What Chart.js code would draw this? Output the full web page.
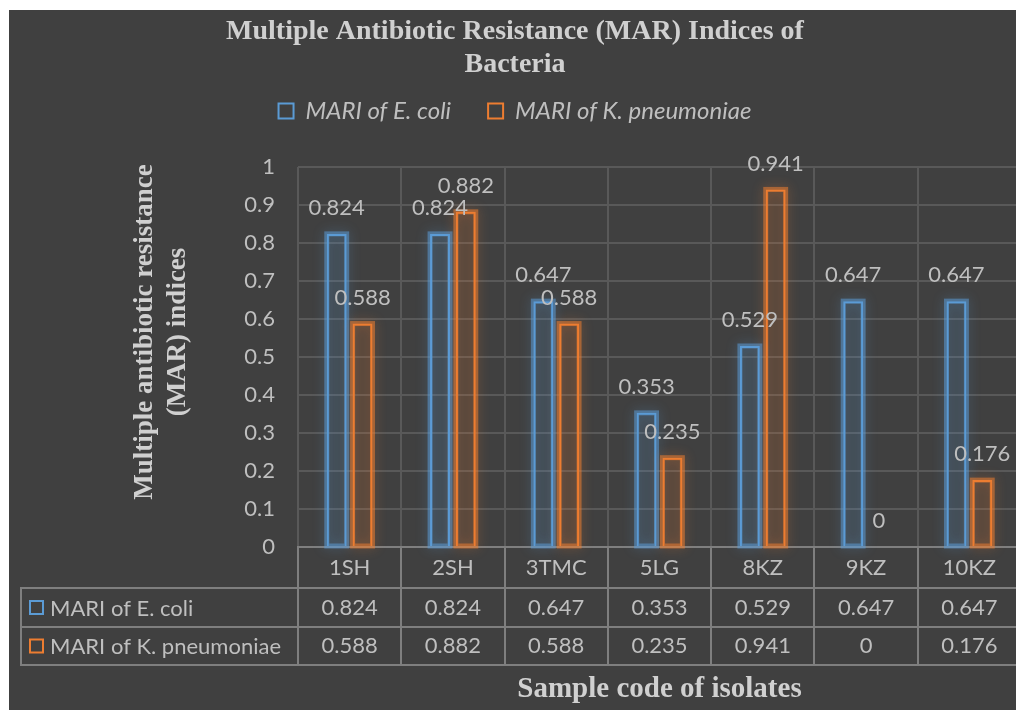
<!DOCTYPE html>
<html>
<head>
<meta charset="utf-8">
<script src="https://cdn.jsdelivr.net/npm/chart.js@4.4.1/dist/chart.umd.min.js"></script>
<style>
html, body { margin: 0; padding: 0; background: #fff; overflow: hidden; width: 1016px; height: 710px; }
#wrap { position: absolute; left: 9px; top: 10px; width: 1030px; height: 700px; background: #404040; }
</style>
</head>
<body>
<div id="wrap"><canvas id="myChart"></canvas></div>
<script>
// chart data
var categories = ['1SH', '2SH', '3TMC', '5LG', '8KZ', '9KZ', '10KZ'];
var mariEcoli = [0.824, 0.824, 0.647, 0.353, 0.529, 0.647, 0.647];
var mariKpneu = [0.588, 0.882, 0.588, 0.235, 0.941, 0, 0.176];
var seriesNames = ['MARI of E. coli', 'MARI of K. pneumoniae'];
var yMin = 0, yMax = 1, yStep = 0.1;

var chartTitle = ['Multiple Antibiotic Resistance (MAR) Indices of', 'Bacteria'];
var yTitle = ['Multiple antibiotic resistance', '(MAR) indices'];
var xTitle = 'Sample code of isolates';

var blue = '#5b9bd5';
var orange = '#ed7d31';
var textGray = '#bfbfbf';
var titleGray = '#d0d0d0';
var gridGray = '#595959';
var tableGray = '#7f7f7f';
var bg = '#404040';

// soft glow round each bar, like the excel effect
var glowPlugin = {
    id: 'glow',
    beforeDatasetsDraw: function (chart) {
        var ctx = chart.ctx
        chart.data.datasets.forEach(function (ds, i) {
            var meta = chart.getDatasetMeta(i)
            meta.data.forEach(function (bar) {
                var h = bar.base - bar.y
                if (h <= 0) return
                ctx.save()
                ctx.shadowColor = ds.glowColor
                ctx.shadowBlur = 12
                ctx.strokeStyle = ds.glowColor
                ctx.lineWidth = 5
                ctx.strokeRect(bar.x - bar.width / 2, bar.y, bar.width, h)
                ctx.restore()
            })
        })
    }
}

// value labels above the bars
var labelPlugin = {
    id: 'valueLabels',
    afterDatasetsDraw: function (chart) {
        var ctx = chart.ctx
        ctx.save()
        ctx.font = '22px Lato'
        ctx.fillStyle = textGray
        ctx.textAlign = 'center'
        ctx.textBaseline = 'middle'
        chart.data.datasets.forEach(function (ds, i) {
            chart.getDatasetMeta(i).data.forEach(function (bar, j) {
                ctx.fillText(String(ds.data[j]), bar.x, bar.y - 26)
            })
        })
        ctx.restore()
    }
}

// data table under the plot + y axis title
var tablePlugin = {
    id: 'dataTable',
    afterDraw: function (chart) {
        var ctx = chart.ctx
        var area = chart.chartArea
        var xs = chart.scales.x
        var top = area.bottom
        var r1 = top + 41, r2 = top + 80, bot = top + 118
        var left = 12

        ctx.save()
        ctx.strokeStyle = tableGray
        ctx.lineWidth = 2
        ctx.beginPath()
        ctx.moveTo(left, r1); ctx.lineTo(area.right, r1)
        ctx.moveTo(left, r2); ctx.lineTo(area.right, r2)
        ctx.moveTo(left, bot); ctx.lineTo(area.right, bot)
        ctx.moveTo(left, r1 - 1); ctx.lineTo(left, bot + 1)
        ctx.stroke()

        ctx.font = '22px Lato'
        ctx.fillStyle = textGray
        ctx.textAlign = 'center'
        ctx.textBaseline = 'middle'
        var rowsY = [(r1 + r2) / 2, (r2 + bot) / 2]
        chart.data.labels.forEach(function (lab, j) {
            var cx = xs.getPixelForValue(j)
            ctx.fillText(lab, cx, (top + r1) / 2)
            chart.data.datasets.forEach(function (ds, i) {
                ctx.fillText(String(ds.data[j]), cx, rowsY[i])
            })
        })

        // row headers
        ctx.textAlign = 'left'
        chart.data.datasets.forEach(function (ds, i) {
            ctx.strokeStyle = ds.borderColor
            ctx.lineWidth = 2
            ctx.strokeRect(21, rowsY[i] - 6.5, 13, 13)
            ctx.fillStyle = textGray
            ctx.fillText(ds.label, 41, rowsY[i] + 1)
        })

        // y axis title, rotated
        ctx.translate(136, 322)
        ctx.rotate(-Math.PI / 2)
        ctx.font = 'bold 27px "Liberation Serif"'
        ctx.fillStyle = titleGray
        ctx.textAlign = 'center'
        yTitle.forEach(function (line, k) {
            ctx.fillText(line, 0, k * 33)
        })
        ctx.restore()
    }
}

var myChart = document.getElementById('myChart').getContext('2d')

var chart = new Chart(myChart, {
    type: 'bar',
    data: {
        labels: categories,
        datasets: [
            {
                label: seriesNames[0],
                data: mariEcoli,
                borderColor: blue,
                backgroundColor: 'rgba(91,155,213,0.12)',
                glowColor: 'rgba(91,155,213,0.55)',
                borderWidth: 2
            },
            {
                label: seriesNames[1],
                data: mariKpneu,
                borderColor: orange,
                backgroundColor: 'rgba(237,125,49,0.12)',
                glowColor: 'rgba(237,125,49,0.55)',
                borderWidth: 2
            }
        ]
    },
    options: {
        responsive: true,
        maintainAspectRatio: false,
        animation: false,
        categoryPercentage: 0.5,
        barPercentage: 0.77,
        layout: { padding: { left: 0, right: 18, top: 0, bottom: 0 } },
        plugins: {
            title: {
                display: true,
                text: chartTitle,
                color: titleGray,
                font: { family: 'Liberation Serif', size: 28, weight: 'bold', lineHeight: '33px' },
                padding: { top: 5.5, bottom: -19.5 }
            },
            legend: {
                position: 'top',
                weight: 1800,
                labels: {
                    font: { family: 'Lato', size: 24, style: 'italic' },
                    color: textGray,
                    boxWidth: 15,
                    boxHeight: 15,
                    padding: 37,
                    generateLabels: function (chart) {
                        return chart.data.datasets.map(function (ds, i) {
                            return {
                                text: ds.label,
                                fillStyle: bg,
                                strokeStyle: ds.borderColor,
                                lineWidth: 2,
                                fontColor: textGray,
                                datasetIndex: i,
                                hidden: false
                            }
                        })
                    }
                }
            },
            // empty spacer between legend and plot
            subtitle: {
                display: true,
                text: '',
                font: { size: 1, lineHeight: '1px' },
                padding: { top: 33, bottom: 0 }
            },
            tooltip: { enabled: false }
        },
        scales: {
            x: {
                afterFit: function (scale) { scale.height = 163 },
                grid: {
                    offset: true,
                    color: gridGray,
                    lineWidth: 2,
                    drawTicks: true,
                    tickLength: 118,
                    tickColor: tableGray,
                    tickWidth: 2
                },
                border: { display: true, color: tableGray, width: 2 },
                ticks: { display: false },
                title: {
                    display: true,
                    text: xTitle,
                    color: titleGray,
                    font: { family: 'Liberation Serif', size: 29, weight: 'bold' },
                    padding: { top: 0, bottom: 2.6 }
                }
            },
            y: {
                min: yMin,
                max: yMax,
                afterFit: function (scale) { scale.width = 289 },
                grid: { color: gridGray, lineWidth: 2, drawTicks: false },
                border: { display: false },
                ticks: {
                    stepSize: yStep,
                    padding: 23,
                    color: textGray,
                    font: { family: 'Lato', size: 22 },
                    callback: function (v) { return String(Math.round(v * 10) / 10) }
                }
            }
        }
    },
    plugins: [glowPlugin, labelPlugin, tablePlugin]
})
</script>
</body>
</html>
